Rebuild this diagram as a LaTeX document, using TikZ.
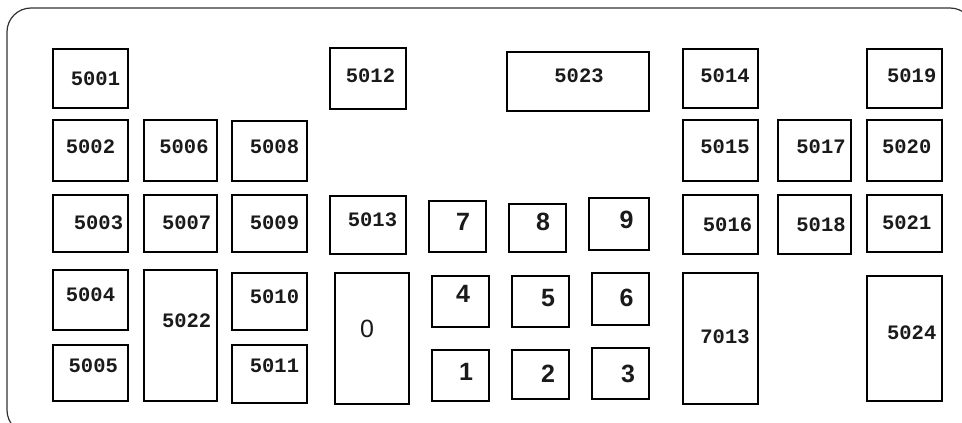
\documentclass[tikz,border=0pt]{standalone}
\usepackage{fontspec}
\usetikzlibrary{fit}
\newfontfamily\monof{Liberation Mono}
\newfontfamily\keydigf{Liberation Sans}[BoldFont={Liberation Sans Bold}]
\definecolor{ink}{HTML}{1A1A1A}
\definecolor{framec}{HTML}{333333}
\newcommand\codefont{\monof\bfseries\fontsize{20.5}{24}\selectfont}
\newcommand\digitfont{\keydigf\bfseries\fontsize{25}{28}\selectfont}
\newcommand\zerofont{\keydigf\mdseries\fontsize{25}{28}\selectfont}
\tikzset{
  keybox/.style={draw=black, line width=2pt, inner sep=0pt, rectangle},
  codelab/.style={inner sep=0pt, text=ink, font=\codefont},
  diglab/.style={inner sep=0pt, text=ink, font=\digitfont},
  zerolab/.style={inner sep=0pt, text=ink, font=\zerofont},
  frame/.style={draw=framec, line width=1.2pt, rounded corners=24pt}
}
\newcommand\keyb[9]{%
  \node[keybox, fit={({#2+1},{#3+1}) ({#4-1},{#5-1})}] (#1) {};
  \node[#9] (#1-t) at (#6,#7) {#8};
}
\begin{document}
\begin{tikzpicture}[x=1pt, y=-1pt]
\useasboundingbox (0,0) rectangle (962,423);
\draw[frame] (7,8) rectangle (974,434);
% left block
\keyb{k5001}{52}{48}{129}{109}{95.5}{79}{5001}{codelab}
\keyb{k5002}{52}{119}{129}{182}{90.5}{147}{5002}{codelab}
\keyb{k5003}{52}{194}{129}{253}{98.5}{223}{5003}{codelab}
\keyb{k5004}{52}{269}{129}{331}{90.5}{295}{5004}{codelab}
\keyb{k5005}{52}{344}{129}{402}{93.3}{366}{5005}{codelab}
\keyb{k5006}{143}{119}{218}{182}{184}{147}{5006}{codelab}
\keyb{k5007}{143}{194}{218}{253}{186.7}{223}{5007}{codelab}
\keyb{k5022}{143}{269}{218}{402}{186.7}{321}{5022}{codelab}
\keyb{k5008}{231}{120}{308}{182}{274.5}{147}{5008}{codelab}
\keyb{k5009}{231}{194}{308}{253}{274.5}{223}{5009}{codelab}
\keyb{k5010}{231}{272}{308}{331}{274.5}{297}{5010}{codelab}
\keyb{k5011}{231}{344}{308}{404}{274.5}{366}{5011}{codelab}
% middle block
\keyb{k5012}{329}{47}{407}{110}{370.5}{75.7}{5012}{codelab}
\keyb{k5013}{329}{195}{407}{255}{372.5}{220}{5013}{codelab}
\keyb{k0}{334}{272}{410}{405}{367}{329}{0}{zerolab}
\keyb{k5023}{506}{51}{650}{112}{579}{76}{5023}{codelab}
\keyb{k7}{428}{200}{487}{253}{463}{222}{7}{diglab}
\keyb{k8}{508}{203}{567}{253}{543}{222}{8}{diglab}
\keyb{k9}{588}{197}{650}{251}{626.5}{220}{9}{diglab}
\keyb{k4}{431}{275}{490}{328}{463}{294}{4}{diglab}
\keyb{k5}{511}{275}{570}{328}{548}{298}{5}{diglab}
\keyb{k6}{591}{272}{650}{326}{626.5}{298}{6}{diglab}
\keyb{k1}{431}{349}{490}{402}{466}{372}{1}{diglab}
\keyb{k2}{511}{349}{570}{400}{548}{373.5}{2}{diglab}
\keyb{k3}{591}{347}{650}{400}{628}{373.5}{3}{diglab}
% right block
\keyb{k5014}{682}{48}{759}{109}{725}{76}{5014}{codelab}
\keyb{k5015}{682}{119}{759}{182}{725}{147}{5015}{codelab}
\keyb{k5016}{682}{194}{759}{255}{727.5}{225}{5016}{codelab}
\keyb{k7013}{682}{272}{759}{405}{725}{336.7}{7013}{codelab}
\keyb{k5017}{777}{119}{852}{182}{821}{147}{5017}{codelab}
\keyb{k5018}{777}{194}{852}{255}{821}{225}{5018}{codelab}
\keyb{k5019}{866}{48}{943}{109}{911.7}{76}{5019}{codelab}
\keyb{k5020}{866}{119}{943}{182}{906.7}{147}{5020}{codelab}
\keyb{k5021}{866}{194}{943}{253}{906.7}{222.7}{5021}{codelab}
\keyb{k5024}{866}{275}{943}{402}{911.7}{332.7}{5024}{codelab}
\end{tikzpicture}
\end{document}
